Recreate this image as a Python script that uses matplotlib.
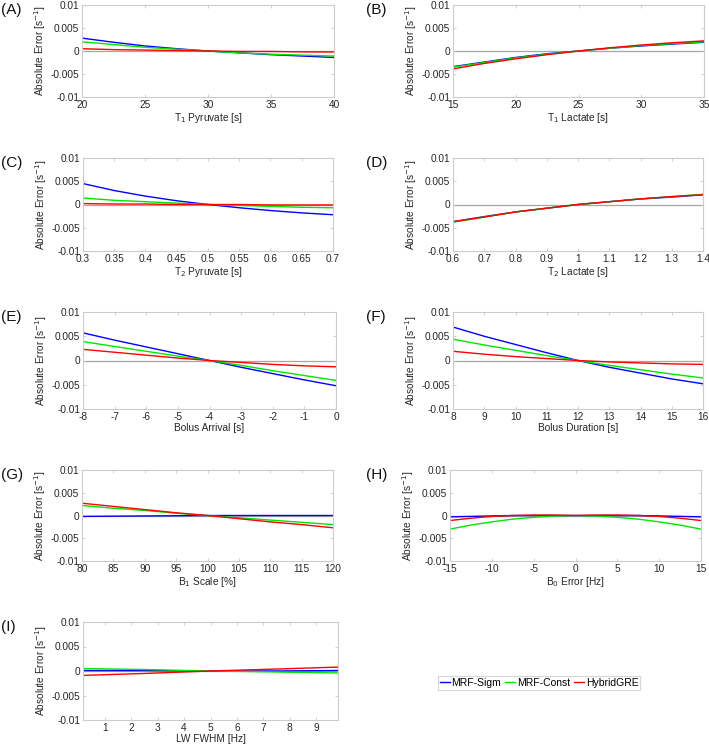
import numpy as np
import matplotlib
matplotlib.use("Agg")
import matplotlib.pyplot as plt

# ---------------- DATA ----------------
t1_pyr_x = [20, 22.5, 25, 27.5, 30, 32.5, 35, 37.5, 40]
t1_pyr_sigm = [0.0028, 0.0019, 0.0011, 0.0005, 0.0, -0.0004, -0.0008, -0.0011, -0.0014]
t1_pyr_const = [0.0020, 0.0014, 0.0008, 0.0004, 0.0, -0.0004, -0.0007, -0.0009, -0.0011]
t1_pyr_hybrid = [0.0005, 0.0003, 0.0002, 0.0001, 0.0, -0.0001, -0.0001, -0.0002, -0.0002]

t1_lac_x = [15, 17.5, 20, 22.5, 25, 27.5, 30, 32.5, 35]
t1_lac_sigm = [-0.0034, -0.0024, -0.0014, -0.0006, 0.0, 0.0006, 0.0011, 0.0015, 0.0019]
t1_lac_const = [-0.0035, -0.0025, -0.0015, -0.0007, 0.0, 0.0006, 0.0012, 0.0016, 0.0020]
t1_lac_hybrid = [-0.0039, -0.0027, -0.0017, -0.0008, 0.0, 0.0007, 0.0013, 0.0018, 0.0022]

t2_pyr_x = [0.3, 0.35, 0.4, 0.45, 0.5, 0.55, 0.6, 0.65, 0.7]
t2_pyr_sigm = [0.0045, 0.0030, 0.0018, 0.0008, 0.0, -0.0007, -0.0013, -0.0018, -0.0022]
t2_pyr_const = [0.0014, 0.0009, 0.0006, 0.0003, 0.0, -0.0002, -0.0004, -0.0006, -0.0007]
t2_pyr_hybrid = [0.0002, 0.0001, 0.0001, 0.0, 0.0, 0.0, -0.0001, -0.0001, -0.0001]

t2_lac_x = [0.6, 0.7, 0.8, 0.9, 1.0, 1.1, 1.2, 1.3, 1.4]
t2_lac_sigm = [-0.0037, -0.0026, -0.0016, -0.0008, 0.0, 0.0006, 0.0012, 0.0016, 0.0021]
t2_lac_const = [-0.0038, -0.0027, -0.0016, -0.0008, 0.0, 0.0006, 0.0012, 0.0017, 0.0022]
t2_lac_hybrid = [-0.0037, -0.0027, -0.0016, -0.0008, 0.0, 0.0006, 0.0012, 0.0017, 0.0021]

bolus_arr_x = [-8, -7, -6, -5, -4, -3, -2, -1, 0]
bolus_arr_sigm = [0.0057, 0.0042, 0.0028, 0.0014, 0.0, -0.0014, -0.0027, -0.0040, -0.0052]
bolus_arr_const = [0.0039, 0.0029, 0.0019, 0.0009, 0.0, -0.0010, -0.0021, -0.0031, -0.0041]
bolus_arr_hybrid = [0.0023, 0.0017, 0.0011, 0.0005, 0.0, -0.0004, -0.0008, -0.0011, -0.0013]

bolus_dur_x = [8, 9, 10, 11, 12, 13, 14, 15, 16]
bolus_dur_sigm = [0.0069, 0.0050, 0.0033, 0.0016, 0.0, -0.0014, -0.0026, -0.0038, -0.0048]
bolus_dur_const = [0.0044, 0.0032, 0.0021, 0.0010, 0.0, -0.0010, -0.0019, -0.0028, -0.0036]
bolus_dur_hybrid = [0.0019, 0.0013, 0.0008, 0.0004, 0.0, -0.0003, -0.0005, -0.0007, -0.0008]

b1_x = [80, 85, 90, 95, 100, 105, 110, 115, 120]
b1_sigm = [-0.0002, -0.00015, -0.0001, -0.00005, 0.0, 0.0, 0.0, 0.0, 0.0]
b1_const = [0.0022, 0.0016, 0.0011, 0.0005, 0.0, -0.0005, -0.0010, -0.0015, -0.0020]
b1_hybrid = [0.0027, 0.0020, 0.0013, 0.0006, 0.0, -0.0007, -0.0014, -0.0020, -0.0027]

b0_x = [-15, -12.5, -10, -7.5, -5, -2.5, 0, 2.5, 5, 7.5, 10, 12.5, 15]
b0_sigm = [-0.0003, -0.0002, -0.0001, 0.0, 0.0, 0.0, 0.0, 0.0, 0.0, 0.0, -0.0001, -0.0002, -0.0003]
b0_const = [-0.0030, -0.0021, -0.0014, -0.0008, -0.0004, -0.0001, 0.0,
            -0.0001, -0.0004, -0.0008, -0.0014, -0.0021, -0.0030]
b0_hybrid = [-0.0011, -0.0006, -0.0002, 0.0, 0.0001, 0.0001, 0.0,
             0.0001, 0.0001, 0.0, -0.0002, -0.0006, -0.0011]

lw_x = [0.17, 2.5, 5.0, 7.5, 9.83]
lw_sigm = [0.0001, 0.0001, 0.0, 0.0, 0.0001]
lw_const = [0.0005, 0.0003, 0.0, -0.0002, -0.0004]
lw_hybrid = [-0.0009, -0.0005, 0.0, 0.0004, 0.0008]

series_names = ["MRF-Sigm", "MRF-Const", "HybridGRE"]
series_colors = ["#0000ff", "#00e600", "#ff0000"]

panels = [
    ("(A)", "T$_1$ Pyruvate [s]", t1_pyr_x, [t1_pyr_sigm, t1_pyr_const, t1_pyr_hybrid],
     (20, 40), np.arange(20, 41, 5)),
    ("(B)", "T$_1$ Lactate [s]", t1_lac_x, [t1_lac_sigm, t1_lac_const, t1_lac_hybrid],
     (15, 35), np.arange(15, 36, 5)),
    ("(C)", "T$_2$ Pyruvate [s]", t2_pyr_x, [t2_pyr_sigm, t2_pyr_const, t2_pyr_hybrid],
     (0.3, 0.7), np.arange(0.3, 0.71, 0.05)),
    ("(D)", "T$_2$ Lactate [s]", t2_lac_x, [t2_lac_sigm, t2_lac_const, t2_lac_hybrid],
     (0.6, 1.4), np.arange(0.6, 1.41, 0.1)),
    ("(E)", "Bolus Arrival [s]", bolus_arr_x, [bolus_arr_sigm, bolus_arr_const, bolus_arr_hybrid],
     (-8, 0), np.arange(-8, 1, 1)),
    ("(F)", "Bolus Duration [s]", bolus_dur_x, [bolus_dur_sigm, bolus_dur_const, bolus_dur_hybrid],
     (8, 16), np.arange(8, 17, 1)),
    ("(G)", "B$_1$ Scale [%]", b1_x, [b1_sigm, b1_const, b1_hybrid],
     (80, 120), np.arange(80, 121, 5)),
    ("(H)", "B$_0$ Error [Hz]", b0_x, [b0_sigm, b0_const, b0_hybrid],
     (-15, 15), np.arange(-15, 16, 5)),
    ("(I)", "LW FWHM [Hz]", lw_x, [lw_sigm, lw_const, lw_hybrid],
     (0.17, 9.83), np.arange(1, 10, 1)),
]

yticks = [-0.01, -0.005, 0, 0.005, 0.01]
ytick_labels = ["-0.01", "-0.005", "0", "0.005", "0.01"]

# axes boxes in pixels: (left, top, right, bottom)
W, H = 709, 746
boxes = [
    (82, 5, 334, 97), (453, 5, 704, 97),
    (83, 158, 333, 251), (453, 158, 703, 251),
    (83, 312, 336, 409), (453, 312, 703, 409),
    (82, 470, 333, 561), (450, 470, 701, 561),
    (83, 622, 338, 720),
]

plt.rcParams["font.family"] = ["Liberation Sans", "DejaVu Sans"]
fig = plt.figure(figsize=(W / 100, H / 100), dpi=100)

handles = []
for i, ((lab, xlabel, x, ys, xlim, xt), (l, t, r, b)) in enumerate(zip(panels, boxes)):
    ax = fig.add_axes([l / W, 1 - b / H, (r - l) / W, (b - t) / H])
    ax.axhline(0, color="#a6a6a6", lw=0.9, zorder=1)
    handles = []
    for y, c, name in zip(ys, series_colors, series_names):
        h, = ax.plot(x, y, color=c, lw=1.0, label=name, zorder=2)
        handles.append(h)
    ax.set_xlim(*xlim)
    ax.set_ylim(-0.01, 0.01)
    ax.set_xticks(xt)
    ax.set_xticklabels([f"{v:g}" for v in xt])
    ax.set_yticks(yticks)
    ax.set_yticklabels(ytick_labels)
    ax.tick_params(direction="in", length=2.5, width=0.5, labelsize=7.3,
                   colors="#bfbfbf", labelcolor="#262626", top=True, right=True, pad=2)
    ax.tick_params(axis="x", pad=2.5)
    for s in ax.spines.values():
        s.set_color("#cccccc")
        s.set_linewidth(0.8)
    ax.set_xlabel(xlabel, fontsize=7.3, color="#262626", labelpad=0.5)
    ax.set_ylabel("Absolute Error [s$^{-1}$]", fontsize=7.3, color="#262626", labelpad=2)
    lx = 1 if i % 2 == 0 else 366
    fig.text(lx / W, 1 - (t + 5) / H, lab, fontsize=11, va="center", ha="left", color="#111111")

leg = fig.legend(handles=handles, labels=series_names, loc="center",
                 bbox_to_anchor=(539 / W, 1 - 683 / H), ncol=3, fontsize=7.5,
                 frameon=True, fancybox=False, handlelength=1.0, handletextpad=0.15,
                 columnspacing=0.35, borderpad=0.2, borderaxespad=0)
leg.get_frame().set_edgecolor("#cccccc")
leg.get_frame().set_linewidth(0.8)

fig.savefig("out.png", dpi=100)
